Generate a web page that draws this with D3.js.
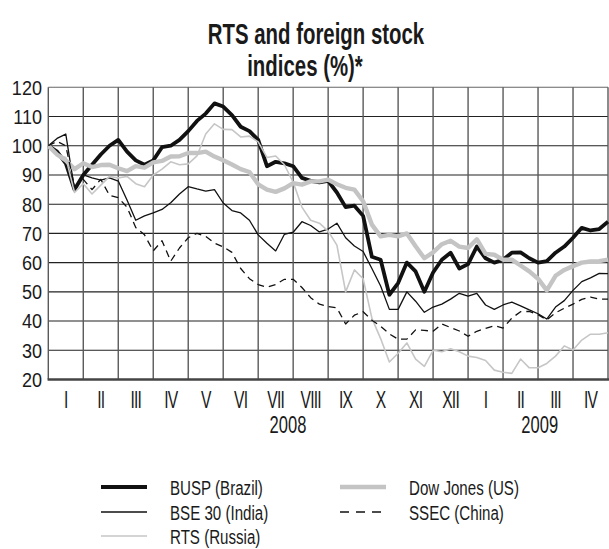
<!DOCTYPE html>
<html>
<head>
<meta charset="utf-8">
<script src="https://cdn.jsdelivr.net/npm/d3@7"></script>
<style>
  html, body { margin: 0; padding: 0; background: #fff; }
  svg { display: block; }
  text { font-family: "Liberation Sans", Arial, "DejaVu Sans", sans-serif; }
</style>
</head>
<body>
<svg id="chart" width="609" height="549"></svg>
<script>
// ---- data (months since 1 Jan 2008, weekly steps) ----
const monthLabels = ["I","II","III","IV","V","VI","VII","VIII","IX","X","XI","XII","I","II","III","IV"];
const yearLabels = ["2008", "2009"];
const yearPositions = [6.85, 14.05];
const yTicks = [20, 30, 40, 50, 60, 70, 80, 90, 100, 110, 120];
const time = d3.range(0, 16.001, 0.25);

const busp = [100,98,94,85,90,93.5,97,100,102,98,95,93.5,95,99.5,100,102,105,108.5,111,114.5,113.4,110.5,106.5,105,102,93,94.5,94,93,89,88,87.5,88,84,79,79.5,76,62,61,49,53,60,57,50,56.6,61,63.4,58,59.5,65.5,61.5,60,61,63.4,63.5,61.5,60,60.5,63.4,65.5,68.5,71.9,71,71.5,74];
const bse = [100,102.5,104,85,90,89,88.2,89,87.9,81.4,74.5,76,77,78.2,80.5,83.5,86,85.2,84.5,85,80.4,77.8,77,74.5,69.5,66.6,64,69.7,70.4,74,72.7,70.5,71.5,73.5,68.5,65.7,63.8,58,52,44,44,50,46.8,43,44.8,45.8,47.5,49.5,48.5,49.5,45.5,44,45.5,46.5,45.2,43.8,42.5,40.7,44.8,47,50.5,53.5,54.8,56.3,56.2];
const rts = [100,97,96,84,87,83.5,86.5,89.5,89,89.5,87,86,90,92,94.5,93.5,93.8,96.5,104,107.5,105.6,105.5,103,103.3,101.3,96,96.5,93.5,87.5,79,74.5,73.5,70.8,66,50,57.5,54.5,41,34,26,29,32.5,27,24.5,30,29.5,30.5,29.5,28,27.5,26.5,23.2,22.5,22.1,27,24,24,25.5,28,31.5,30.1,33.5,35.5,35.5,36];
const dow = [100,97,95,92,94,92.7,93.4,93.5,92.3,91.3,93,92.5,94.3,94.8,96.3,96.4,97.5,97.5,98,96.3,95,93.6,92,91,86.8,85,84.2,85.4,87.2,86.7,87.8,87.8,88.4,86.8,85.6,85,81,73,69,69.5,69,70,65.6,61.5,63.5,66.3,67.5,65.5,65,68,63,62.7,61,61,59,57,54.5,50.5,55.5,57.5,58.8,60,60.4,60.5,61];
const ssec = [100,101.5,100,86,88.5,85,88.5,83,82.2,79,72,69.5,64,67.5,60.5,65,68.5,70,69,66.7,65.4,63.5,58,54.5,52.5,51.6,52.5,54.3,54.3,51.5,48,45.8,45,44.5,39,42,43.2,40.3,38.2,35.6,33.8,33.8,37,36.8,36.5,39,37.8,36.6,34.8,36.5,37.5,38.4,37.6,41,43.2,43.3,42.2,40.4,42.8,44.4,45.8,47.4,48.2,47.5,47.5];

const seriesNames = ["BUSP (Brazil)", "BSE 30 (India)", "RTS (Russia)", "Dow Jones (US)", "SSEC (China)"];
const seriesValues = [busp, bse, rts, dow, ssec];
const seriesStyles = [
  {stroke: "#111", width: 3.8, dash: null},
  {stroke: "#111", width: 1.3, dash: null},
  {stroke: "#c6c6c6", width: 1.6, dash: null},
  {stroke: "#c4c4c4", width: 4.4, dash: null},
  {stroke: "#111", width: 1.3, dash: "7,5"}
];

// ---- layout ----
const svg = d3.select("#chart");
const pLeft = 48.3, pRight = 608, pTop = 87.3, pBottom = 379.5;
const x = d3.scaleLinear().domain([0, 16]).range([pLeft, pRight]);
const y = d3.scaleLinear().domain([20, 120]).range([pBottom, pTop]);

// condensed text helper (horizontal squeeze)
function ctext(sel, sx, size, anchor, weight) {
  return sel.append("text")
    .attr("transform", `scale(${sx},1)`)
    .attr("text-anchor", anchor).attr("font-size", size)
    .attr("font-weight", weight || "normal").attr("fill", "#1a1a1a");
}

// title
ctext(svg.append("g").attr("transform", "translate(316,43.5)"), 0.68, 30, "middle", "bold")
  .text("RTS and foreign stock");
ctext(svg.append("g").attr("transform", "translate(305,75.5)"), 0.68, 30, "middle", "bold")
  .text("indices (%)*");

// grid: horizontal
svg.append("g").selectAll("line").data(yTicks.filter(d => d > 20)).join("line")
  .attr("x1", pLeft).attr("x2", pRight)
  .attr("y1", d => y(d)).attr("y2", d => y(d))
  .attr("stroke", d => d === 120 ? "#666" : "#222").attr("stroke-width", 1.1);
// grid: vertical
svg.append("g").selectAll("line").data(d3.range(0, 17)).join("line")
  .attr("x1", d => x(d)).attr("x2", d => x(d))
  .attr("y1", pTop).attr("y2", pBottom)
  .attr("stroke", "#5a5a5a").attr("stroke-width", 1.4);
// bottom axis line
svg.append("line").attr("x1", pLeft - 0.7).attr("x2", pRight + 1)
  .attr("y1", pBottom).attr("y2", pBottom)
  .attr("stroke", "#444").attr("stroke-width", 2.4);

// y labels
svg.append("g").selectAll("g").data(yTicks).join("g")
  .attr("transform", d => `translate(42,${y(d) + 7.4})`)
  .each(function(d) { ctext(d3.select(this), 0.86, 21, "end").text(d); });

// month labels
svg.append("g").selectAll("g").data(monthLabels).join("g")
  .attr("transform", (d, i) => `translate(${x(i + 0.5)},408.3)`)
  .each(function(d) { ctext(d3.select(this), 0.68, 23, "middle").attr("letter-spacing", -1.2).text(d); });
svg.append("g").selectAll("g").data(yearLabels).join("g")
  .attr("transform", (d, i) => `translate(${x(yearPositions[i])},432.7)`)
  .each(function(d) { ctext(d3.select(this), 0.72, 23, "middle").text(d); });

// series
const line = d3.line().x((d, i) => x(time[i])).y(d => y(d)).defined(d => d != null);
const plot = svg.append("g");
seriesValues.forEach((vals, k) => {
  const st = seriesStyles[k];
  plot.append("path").datum(vals).attr("d", line)
    .attr("fill", "none").attr("stroke", st.stroke).attr("stroke-width", st.width)
    .attr("stroke-linejoin", "round")
    .attr("stroke-dasharray", st.dash);
});

// legend
const legendPos = [[101, 487], [101, 512], [101, 536], [340, 487], [340, 512]];
const lg = svg.append("g");
seriesNames.forEach((name, k) => {
  const st = seriesStyles[k];
  const [lx, ly] = legendPos[k];
  lg.append("line").attr("x1", lx).attr("x2", lx + 46).attr("y1", ly).attr("y2", ly)
    .attr("stroke", st.stroke).attr("stroke-width", st.width)
    .attr("stroke-dasharray", st.dash ? "9,7" : null);
  ctext(lg.append("g").attr("transform", `translate(${lx + 69},${ly + 7.5})`), 0.72, 21, "start")
    .text(name);
});
</script>
</body>
</html>
